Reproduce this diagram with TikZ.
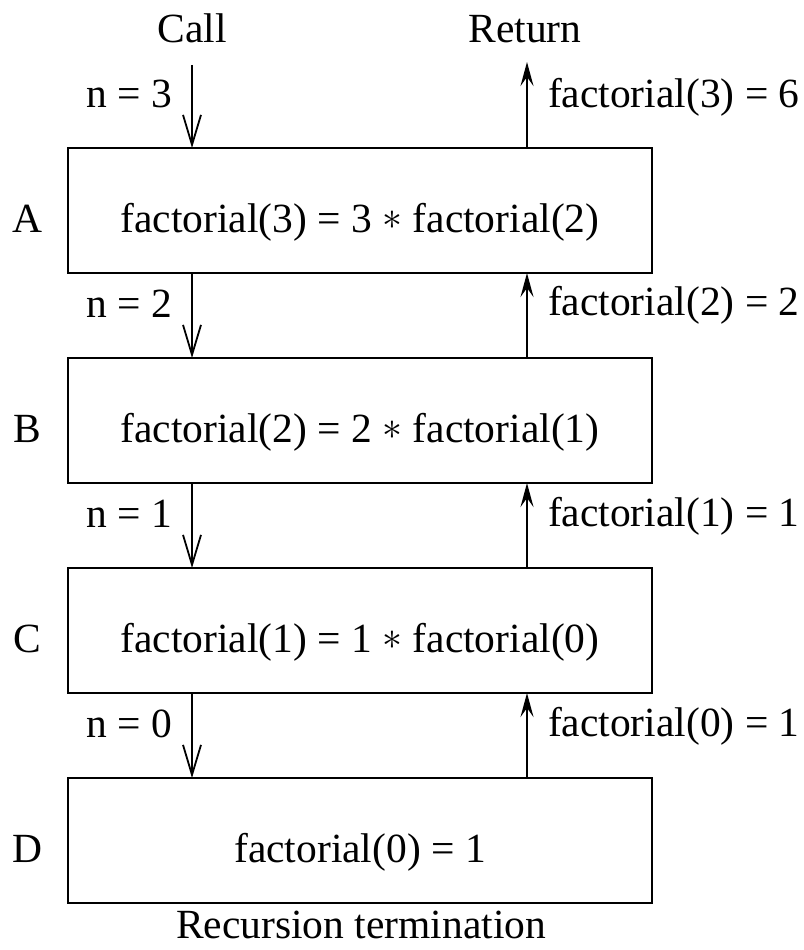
\documentclass[tikz,border=0pt]{standalone}
\usepackage{fontspec}
\usepackage{graphicx}
\setmainfont{Liberation Serif}
\usetikzlibrary{arrows.meta}
\newcommand{\bigstar}{\raisebox{0.05em}{\scalebox{1.6}{$\ast$}}}
\begin{document}
\begin{tikzpicture}[x=1pt,y=1pt,
  every node/.style={font=\fontsize{41.5}{48}\selectfont, inner sep=0pt, outer sep=0pt},
  framebox/.style={draw, line width=2.6pt, minimum width=584pt, minimum height=125pt},
  txt/.style={anchor=base},
  lbl/.style={anchor=base},
  nlbl/.style={anchor=base east},
  flbl/.style={anchor=base west},
  callarrow/.style={line width=2pt, -{Straight Barb[length=30pt,width=18pt,line width=1.8pt]}},
  retarrow/.style={line width=2.2pt, -{Stealth[length=24pt,width=13pt,inset=9pt]}}
]
\useasboundingbox (0,0) rectangle (803,-950);

% boxes
\node[framebox] (A) at (360,-210.5) {};
\node[framebox] (B) at (360,-420.5) {};
\node[framebox] (C) at (360,-630.5) {};
\node[framebox] (D) at (360,-840.5) {};

% box texts
\node[txt] (tA) at (360,-232) {factorial(3) = 3 \bigstar{} factorial(2)};
\node[txt] (tB) at (360,-442) {factorial(2) = 2 \bigstar{} factorial(1)};
\node[txt] (tC) at (360,-652) {factorial(1) = 1 \bigstar{} factorial(0)};
\node[txt] (tD) at (360,-862) {factorial(0) = 1};

% side letters
\node[lbl] (lA) at (27,-232) {A};
\node[lbl] (lB) at (27,-442) {B};
\node[lbl] (lC) at (27,-652) {C};
\node[lbl] (lD) at (27,-862) {D};

% headings
\node[lbl] (call) at (192,-43) {Call};
\node[lbl] (ret) at (525,-43) {Return};
\node[lbl] (term) at (361,-938) {Recursion termination};

% arrow ends
\coordinate (c0) at (192,-65);
\coordinate (r0) at (527,-62);

% call arrows
\draw[callarrow] (c0) -- (c0 |- A.north);
\draw[callarrow] (A.south -| c0) -- (B.north -| c0);
\draw[callarrow] (B.south -| c0) -- (C.north -| c0);
\draw[callarrow] (C.south -| c0) -- (D.north -| c0);

% return arrows
\draw[retarrow] (A.north -| r0) -- (r0);
\draw[retarrow] (B.north -| r0) -- (A.south -| r0);
\draw[retarrow] (C.north -| r0) -- (B.south -| r0);
\draw[retarrow] (D.north -| r0) -- (C.south -| r0);

% n labels
\node[nlbl] (n3) at (172,-107) {n = 3};
\node[nlbl] (n2) at (172,-317) {n = 2};
\node[nlbl] (n1) at (172,-527) {n = 1};
\node[nlbl] (n0) at (172,-737) {n = 0};

% return labels
\node[flbl] (f3) at (548,-107) {factorial(3) = 6};
\node[flbl] (f2) at (548,-315) {factorial(2) = 2};
\node[flbl] (f1) at (548,-526) {factorial(1) = 1};
\node[flbl] (f0) at (548,-736) {factorial(0) = 1};
\end{tikzpicture}
\end{document}
